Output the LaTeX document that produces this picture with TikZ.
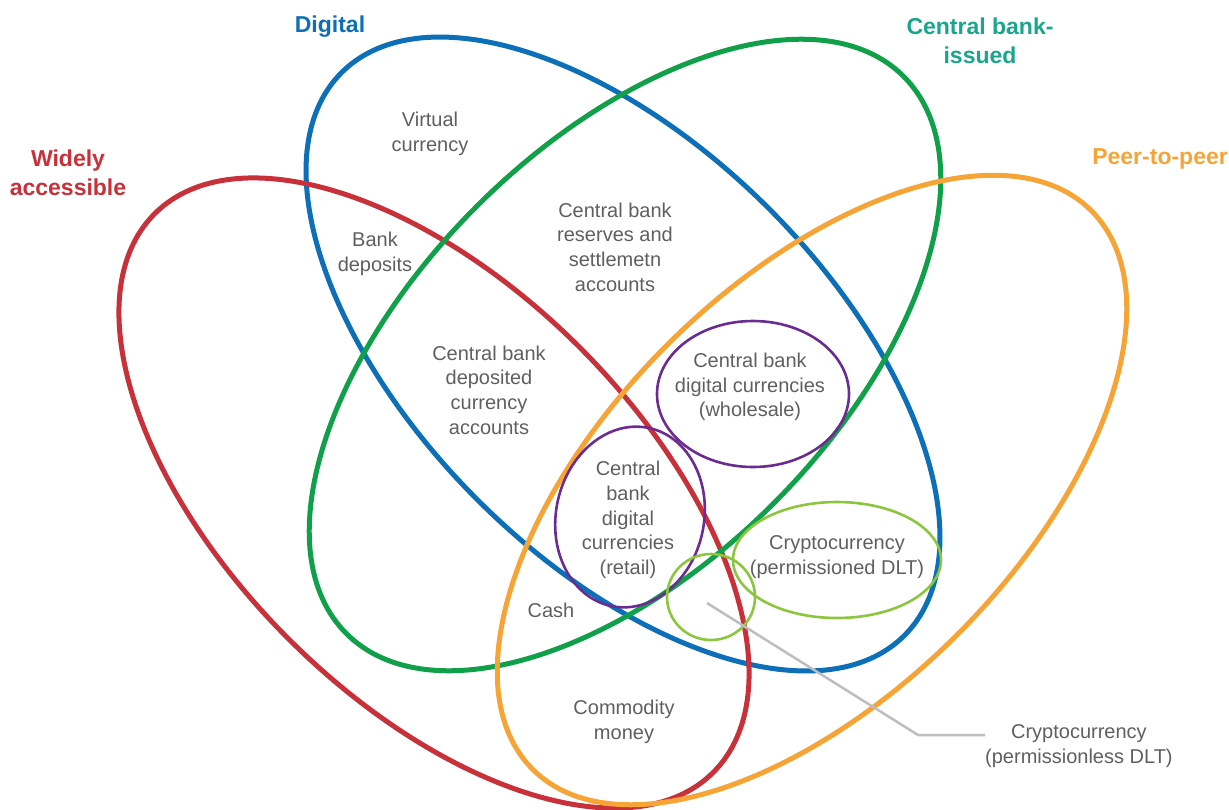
\documentclass[tikz,border=0pt]{standalone}
\usepackage{fontspec}
\setmainfont{Liberation Sans}
\definecolor{cred}{RGB}{200,48,58}
\definecolor{cblue}{RGB}{12,111,184}
\definecolor{cgreen}{RGB}{16,160,74}
\definecolor{corange}{RGB}{247,164,55}
\definecolor{cpurple}{RGB}{107,44,145}
\definecolor{clime}{RGB}{140,198,63}
\definecolor{cteal}{RGB}{26,166,140}
\definecolor{ctext}{RGB}{95,95,95}
\definecolor{cline}{RGB}{190,190,192}
\begin{document}
\begin{tikzpicture}[x=1pt,y=-1pt,
  bigloop/.style={line width=5pt},
  thinloop/.style={line width=2.6pt},
  settitle/.style={font=\fontsize{23}{29.5}\selectfont\bfseries, align=center, inner sep=0pt},
  lbl/.style={text=ctext, font=\fontsize{20}{24.6}\selectfont, align=center, inner sep=0pt}]
\useasboundingbox (0,0) rectangle (1229,809);
% set centres
\coordinate (cdig) at (623,354);
\coordinate (cwide) at (434,493);
\coordinate (ccb) at (625,355);
\coordinate (cp2p) at (812,490);
\coordinate (cret) at (630,517);
% Digital (blue)
\draw[bigloop, cblue, rotate around={-45:(cdig)}] (cdig) ellipse [x radius=398, y radius=206];
% Widely accessible (red)
\draw[bigloop, cred, rotate around={-45:(cwide)}] (cwide) ellipse [x radius=395, y radius=206];
% Central bank-issued (green)
\draw[bigloop, cgreen, rotate around={45:(ccb)}] (ccb) ellipse [x radius=394, y radius=210];
% Peer-to-peer (orange)
\draw[bigloop, corange, rotate around={45:(cp2p)}] (cp2p) ellipse [x radius=395, y radius=205];
% inner sets
\draw[thinloop, cpurple] (753,394) ellipse [x radius=96, y radius=73];
\draw[thinloop, cpurple, rotate around={-12:(cret)}] (cret) ellipse [x radius=74, y radius=91];
\draw[thinloop, clime] (837,560) ellipse [x radius=104, y radius=58];
\draw[thinloop, clime] (711,597) ellipse [x radius=44, y radius=43];
% titles
\node[settitle, text=cblue] (tdig) at (330,27) {Digital};
\node[settitle, text=cred] (twide) at (68,173) {Widely\\accessible};
\node[settitle, text=cteal] (tcb) at (980,41) {Central bank-\\issued};
\node[settitle, text=corange, anchor=east] (tp2p) at (1228,159) {Peer-to-peer};
% labels
\node[lbl] (vc) at (430,134) {Virtual\\currency};
\node[lbl] (bd) at (375,254) {Bank\\deposits};
\node[lbl] (cbr) at (615,247) {Central bank\\reserves and\\settlemetn\\accounts};
\node[lbl] (cbd) at (489,390) {Central bank\\deposited\\currency\\accounts};
\node[lbl] (cbw) at (750,387) {Central bank\\digital currencies\\(wholesale)};
\node[lbl] (cbrt) at (628,520) {Central\\bank\\digital\\currencies\\(retail)};
\node[lbl] (cpd) at (837,557) {Cryptocurrency\\(permissioned DLT)};
\node[lbl] (cash) at (551,610) {Cash};
\node[lbl] (cm) at (624,722) {Commodity\\money};
\node[lbl, anchor=west] (cpl) at (985,746) {Cryptocurrency\\(permissionless DLT)};
% connector
\coordinate (plin) at (707,603);
\coordinate (bend) at (918,735);
\draw[cline, line width=2.5pt] (plin) -- (bend) -- (cpl.west |- bend);
\end{tikzpicture}
\end{document}
